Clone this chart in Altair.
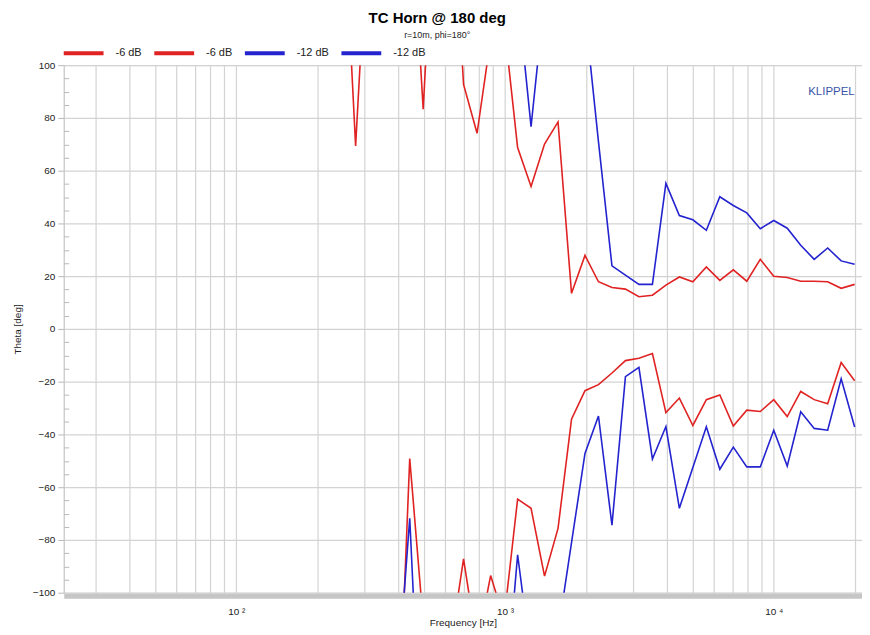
import altair as alt
import pandas as pd

FONT = "Liberation Sans, Arial, sans-serif"

# 1/6-octave frequency points (Hz)
freq = [20, 22, 25, 28, 31, 35, 39, 44, 49, 55, 62, 70, 78, 88, 98, 110, 124, 139,
        156, 175, 197, 221, 248, 278, 313, 351, 394, 442, 496, 557, 625, 701, 787,
        884, 992, 1114, 1250, 1403, 1575, 1768, 1984, 2227, 2500, 2806, 3150, 3536,
        3969, 4454, 5000, 5612, 6300, 7071, 7937, 8909, 10000, 11225, 12599, 14142,
        15874, 17818, 20000]

red_upper = [180] * 22 + [170, 69.4, 165, 180, 180, 170, 83.3, 180, 180, 92.7, 74.2,
             110, 116, 68.8, 54.0, 70.1, 78.5, 13.5, 27.9, 17.9, 15.7, 15.1, 12.2,
             12.8, 16.6, 19.7, 17.9, 23.5, 18.4, 22.4, 18.1, 26.4, 20.0, 19.5, 18.1,
             18.1, 17.9, 15.4, 16.9]

red_lower = [-180] * 26 + [-175, -49.1, -111, -150, -121, -87.2, -120, -93.5, -110,
             -64.5, -68.0, -93.7, -75.6, -34.2, -23.4, -21.1, -16.7, -12.0, -11.1,
             -9.3, -31.7, -26.2, -36.6, -26.8, -25.0, -36.8, -30.8, -31.3, -26.8,
             -33.2, -23.7, -26.8, -28.4, -12.7, -19.6]

blue_upper = [180] * 35 + [127, 76.7, 126, 180, 180, 120, 71, 23.9, 20.4, 16.9, 16.9,
              55.2, 43.0, 41.4, 37.4, 50.1, 46.8, 44.0, 38.0, 41.1, 38.2, 31.7, 26.4,
              30.7, 25.8, 24.5]

blue_lower = [-180] * 26 + [-140, -71.8, -180, -180, -180, -180, -180, -180, -146,
              -85.6, -125, -140, -115, -81, -47.2, -33.0, -74.4, -18.1, -14.6, -49.3,
              -37.0, -68.0, -52.5, -37.1, -53.2, -44.8, -52.3, -52.3, -38.4, -52.0,
              -31.4, -37.7, -38.4, -18.9, -37.2]

series_names = ["-6 dB|a", "-6 dB|b", "-12 dB|a", "-12 dB|b"]
series_colors = ["#e02222", "#e02222", "#2323cf", "#2323cf"]

x_grid = [30, 40, 50, 60, 70, 80, 90, 100, 200, 300, 400, 500, 600, 700, 800, 900,
          1000, 2000, 3000, 4000, 5000, 6000, 7000, 8000, 9000, 10000, 20000]
y_major = [-100, -80, -60, -40, -20, 0, 20, 40, 60, 80, 100]
y_minor = [-95, -90, -85, -75, -70, -65, -55, -50, -45, -35, -30, -25, -15, -10, -5,
           5, 10, 15, 25, 30, 35, 45, 50, 55, 65, 70, 75, 85, 90, 95]

rows = []
for name, vals in zip(series_names, [red_upper, red_lower, blue_upper, blue_lower]):
    for f, v in zip(freq, vals):
        rows.append({"freq": f, "theta": v, "series": name})
df = pd.DataFrame(rows)

W, H = 802, 530

x_scale = alt.Scale(type="log", domain=[22.8, 21300], nice=False)
y_scale = alt.Scale(domain=[-100, 100], nice=False)

x_axis = alt.Axis(
    values=x_grid, title="Frequency [Hz]",
    labelExpr="datum.value == 100 ? '10 ²' : datum.value == 1000 ? '10 ³' : datum.value == 10000 ? '10 ⁴' : ''",
    labelOverlap=False, labelFlush=False, ticks=False, grid=True,
    gridColor="#d3d3d3", gridWidth=1.2, domainColor="#c6c6c6", domainWidth=5,
    offset=3, labelPadding=11, labelFont=FONT, labelFontSize=10, labelColor="#222",
    titleFont=FONT, titleFontSize=10, titleFontWeight="normal", titleColor="#222",
    titlePadding=1,
)

lines = alt.Chart(df).mark_line(clip=True, strokeWidth=1.6).encode(
    x=alt.X("freq:Q", scale=x_scale, axis=x_axis),
    y=alt.Y("theta:Q", scale=y_scale, axis=alt.Axis(
        values=y_major, title="Theta [deg]", grid=True, gridColor="#d3d3d3",
        gridWidth=1.2, domainColor="#c6c6c6", tickColor="#b8b8b8", tickSize=6,
        labelPadding=3, labelFont=FONT, labelFontSize=10, labelColor="#222",
        titleFont=FONT, titleFontSize=10, titleFontWeight="normal",
        titleColor="#222", titlePadding=10)),
    color=alt.Color("series:N", scale=alt.Scale(domain=series_names, range=series_colors),
                    legend=alt.Legend(orient="none", legendX=-2, legendY=-34,
                                      direction="horizontal", title=None,
                                      symbolType="stroke", symbolStrokeWidth=4,
                                      symbolSize=1600, labelExpr="split(datum.label, '|')[0]",
                                      labelFont=FONT, labelFontSize=11, labelColor="#222",
                                      labelOffset=10, columnPadding=4, padding=0)),
)

klippel = alt.Chart(pd.DataFrame({"t": ["KLIPPEL"]})).mark_text(
    text="KLIPPEL", align="right", baseline="middle", color="#3a55a8",
    font=FONT, fontSize=11.5,
).encode(
    x=alt.XDatum(20000, type="quantitative", scale=x_scale, axis=x_axis),
    y=alt.YDatum(90, type="quantitative", scale=y_scale, axis=alt.Axis(
        orient="right", offset=-W, values=y_minor, labels=False, domain=False,
        grid=False, ticks=True, tickSize=5, tickColor="#b8b8b8", title=None)),
)

chart = alt.layer(lines, klippel).resolve_axis(y="independent").properties(
    width=W, height=H,
    autosize=alt.AutoSizeParams(type="none"),
    padding={"left": 56, "top": 56, "right": 0, "bottom": 36},
    title=alt.TitleParams(
        text="TC Horn @ 180 deg", subtitle="r=10m, phi=180°", fontSize=15,
        fontWeight="bold", font=FONT, subtitleFont=FONT, subtitleFontSize=9,
        subtitleColor="#222", color="#000", anchor="middle", frame="bounds",
        subtitlePadding=5, offset=-9),
).configure_view(strokeWidth=0).configure(background="white")

chart.save("out.html", embed_options={"renderer": "svg", "actions": False})
